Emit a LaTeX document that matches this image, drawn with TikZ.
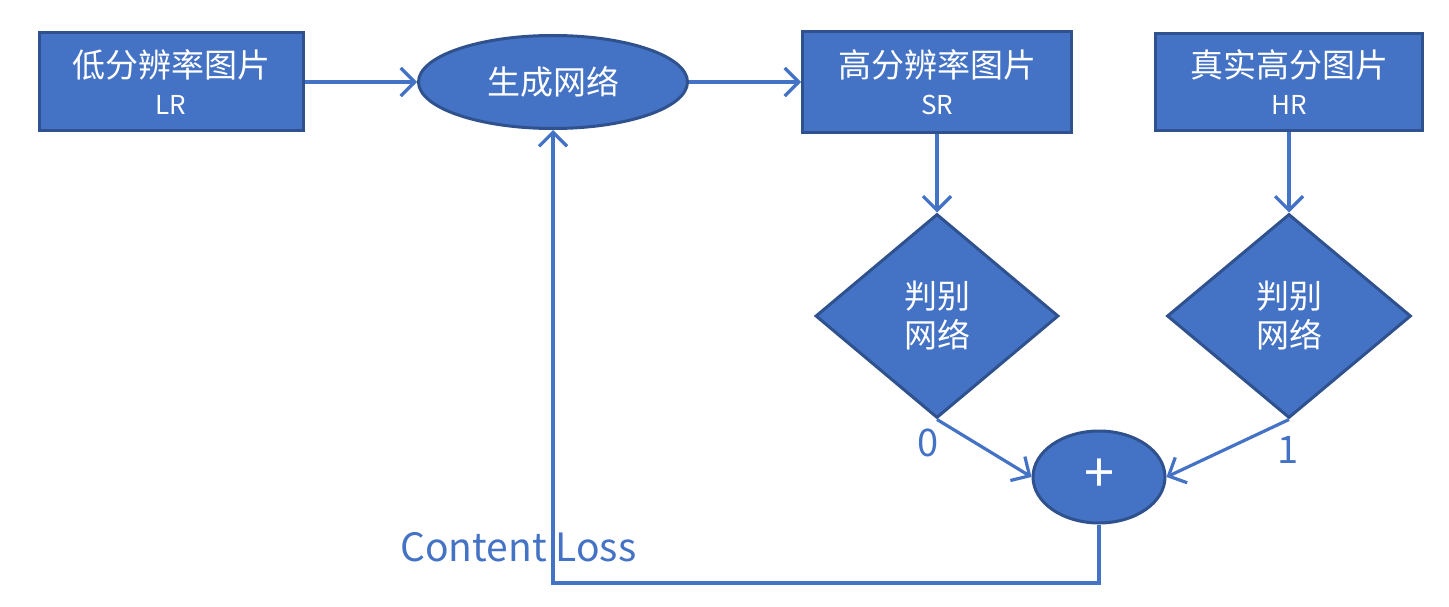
\documentclass[tikz,border=0pt]{standalone}
\usepackage{fontspec}
\setmainfont{Noto Sans CJK SC}
\usetikzlibrary{shapes.geometric,arrows.meta}
\definecolor{bfill}{HTML}{4472C4}
\definecolor{bdraw}{HTML}{2F528F}
\tikzset{
  box/.style={draw=bdraw,fill=bfill,line width=3pt,text=white,align=center,inner sep=0pt},
  rbox/.style={box,rectangle,minimum width=264pt,minimum height=98pt},
  ebox/.style={box,ellipse},
  dbox/.style={box,diamond,minimum width=243pt,minimum height=204pt},
  conn/.style={draw=bfill,line width=3.2pt,-{Straight Barb[length=14pt,width=28pt,line width=3.2pt]}},
  big/.style={font=\fontsize{33}{39}\selectfont},
  lbl/.style={text=bfill,font=\fontsize{38}{44}\selectfont,inner sep=0pt}
}
\newcommand{\smalltxt}[1]{{\fontsize{26}{30}\selectfont #1}}
\begin{document}
\begin{tikzpicture}[x=1pt,y=-1pt]
\useasboundingbox (0,0) rectangle (1449,607);
\node[rbox,big] (lr) at (171,82) {低分辨率图片\\[-2pt]\smalltxt{LR}};
\node[ebox,big,minimum width=269pt,minimum height=93pt] (gen) at (553,82) {生成网络};
\node[rbox,big,minimum width=269pt,minimum height=101pt] (sr) at (937,82) {高分辨率图片\\[-2pt]\smalltxt{SR}};
\node[rbox,big,minimum width=267pt,minimum height=97pt] (hr) at (1289,82) {真实高分图片\\[-2pt]\smalltxt{HR}};
\node[dbox,big] (d1) at (937,316) {判别\\网络};
\node[dbox,big,minimum width=244pt] (d2) at (1289,316) {判别\\网络};
\node[ebox,font=\fontsize{54}{58}\selectfont\addfontfeature{}\fontseries{l},minimum width=132pt,minimum height=92pt] (plus) at (1099,477) {\raisebox{2pt}{+}};
\coordinate (bot) at (0,583);
\draw[conn] (lr.east) -- (gen.west);
\draw[conn] (gen.east) -- (sr.west);
\draw[conn] (sr.south) -- (d1.north);
\draw[conn] (hr.south) -- (d2.north);
\draw[conn] (d1.south) -- (plus.west);
\draw[conn] (d2.south) -- (plus.east);
\draw[conn] (plus.south) -- (plus.south |- bot) -| (gen.south);
\node[lbl] (zero) at (928,443) {0};
\node[lbl] (one) at (1288,450) {1};
\node[lbl,anchor=base west,font=\fontsize{39}{44}\selectfont] (cl) at (400,561) {Content Loss};
\end{tikzpicture}
\end{document}
